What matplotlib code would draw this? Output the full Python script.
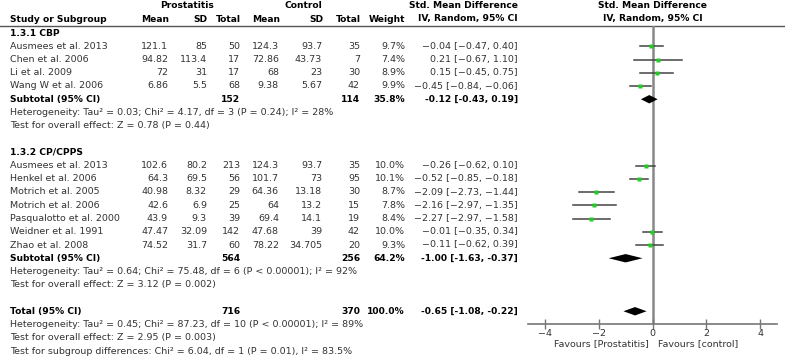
import matplotlib
matplotlib.use("Agg")
import matplotlib.pyplot as plt

# subgroup 1.3.1 CBP
cbp_names = ["Ausmees et al. 2013", "Chen et al. 2006", "Li et al. 2009", "Wang W et al. 2006"]
cbp_mean1 = [121.1, 94.82, 72, 6.86]
cbp_sd1 = [85, 113.4, 31, 5.5]
cbp_n1 = [50, 17, 17, 68]
cbp_mean2 = [124.3, 72.86, 68, 9.38]
cbp_sd2 = [93.7, 43.73, 23, 5.67]
cbp_n2 = [35, 7, 30, 42]
cbp_weight = [9.7, 7.4, 8.9, 9.9]
cbp_smd = [-0.04, 0.21, 0.15, -0.45]
cbp_lo = [-0.47, -0.67, -0.45, -0.84]
cbp_hi = [0.40, 1.10, 0.75, -0.06]

# subgroup 1.3.2 CP/CPPS
cp_names = ["Ausmees et al. 2013", "Henkel et al. 2006", "Motrich et al. 2005", "Motrich et al. 2006",
            "Pasqualotto et al. 2000", "Weidner et al. 1991", "Zhao et al. 2008"]
cp_mean1 = [102.6, 64.3, 40.98, 42.6, 43.9, 47.47, 74.52]
cp_sd1 = [80.2, 69.5, 8.32, 6.9, 9.3, 32.09, 31.7]
cp_n1 = [213, 56, 29, 25, 39, 142, 60]
cp_mean2 = [124.3, 101.7, 64.36, 64, 69.4, 47.68, 78.22]
cp_sd2 = [93.7, 73, 13.18, 13.2, 14.1, 39, 34.705]
cp_n2 = [35, 95, 30, 15, 19, 42, 20]
cp_weight = [10.0, 10.1, 8.7, 7.8, 8.4, 10.0, 9.3]
cp_smd = [-0.26, -0.52, -2.09, -2.16, -2.27, -0.01, -0.11]
cp_lo = [-0.62, -0.85, -2.73, -2.97, -2.97, -0.35, -0.62]
cp_hi = [0.10, -0.18, -1.44, -1.35, -1.58, 0.34, 0.39]

# pooled results: (total1, total2, weight, smd, lo, hi)
sub_cbp = (152, 114, 35.8, -0.12, -0.43, 0.19)
sub_cp = (564, 256, 64.2, -1.00, -1.63, -0.37)
overall = (716, 370, 100.0, -0.65, -1.08, -0.22)

het_cbp = ["Heterogeneity: Tau² = 0.03; Chi² = 4.17, df = 3 (P = 0.24); I² = 28%",
           "Test for overall effect: Z = 0.78 (P = 0.44)"]
het_cp = ["Heterogeneity: Tau² = 0.64; Chi² = 75.48, df = 6 (P < 0.00001); I² = 92%",
          "Test for overall effect: Z = 3.12 (P = 0.002)"]
het_all = ["Heterogeneity: Tau² = 0.45; Chi² = 87.23, df = 10 (P < 0.00001); I² = 89%",
           "Test for overall effect: Z = 2.95 (P = 0.003)",
           "Test for subgroup differences: Chi² = 6.04, df = 1 (P = 0.01), I² = 83.5%"]

xticks = [-4, -2, 0, 2, 4]

FS = 6.8
FSB = 6.6
TXT = "#333333"
W, H = 785, 359


def rowy(i):
    return 33 + 13.25 * i


def fmt_num(v):
    return "{:g}".format(v)


def fmt_ci(e, lo, hi, minus="\u2212"):
    s = "{:.2f} [{:.2f}, {:.2f}]".format(e, lo, hi)
    return s.replace("-", minus)


fig = plt.figure(figsize=(W / 100, H / 100), dpi=100)
ax = fig.add_axes([0, 0, 1, 1])
ax.set_xlim(0, W)
ax.set_ylim(H, 0)
ax.axis("off")

# column right edges
cols = [168, 207, 240, 279, 322, 360]
x_weight = 405
x_smd = 518
x_name = 10

# headers
ax.text(187, 6, "Prostatitis", ha="center", va="center", fontsize=FSB, fontweight="bold")
ax.text(303, 6, "Control", ha="center", va="center", fontsize=FSB, fontweight="bold")
ax.text(x_smd, 6, "Std. Mean Difference", ha="right", va="center", fontsize=FSB, fontweight="bold")
ax.text(x_name, 19, "Study or Subgroup", ha="left", va="center", fontsize=FSB, fontweight="bold")
for x, lab in zip(cols, ["Mean", "SD", "Total", "Mean", "SD", "Total"]):
    ax.text(x + 1, 19, lab, ha="right", va="center", fontsize=FSB, fontweight="bold")
ax.text(x_weight, 19, "Weight", ha="right", va="center", fontsize=FSB, fontweight="bold")
ax.text(x_smd, 19, "IV, Random, 95% CI", ha="right", va="center", fontsize=FSB, fontweight="bold")
ax.plot([0, W], [26, 26], color="#555555", lw=1)


def study_rows(start, names, m1, s1, n1, m2, s2, n2, wt, smd, lo, hi):
    for k in range(len(names)):
        y = rowy(start + k)
        ax.text(x_name, y, names[k], ha="left", va="center", fontsize=FS, color=TXT)
        vals = [fmt_num(m1[k]), fmt_num(s1[k]), str(n1[k]), fmt_num(m2[k]), fmt_num(s2[k]), str(n2[k])]
        for x, v in zip(cols, vals):
            ax.text(x, y, v, ha="right", va="center", fontsize=FS, color=TXT)
        ax.text(x_weight, y, "{:.1f}%".format(wt[k]), ha="right", va="center", fontsize=FS, color=TXT)
        ax.text(x_smd, y, fmt_ci(smd[k], lo[k], hi[k]), ha="right", va="center", fontsize=FS, color=TXT)


def pooled_row(i, label, res):
    y = rowy(i)
    ax.text(x_name, y, label, ha="left", va="center", fontsize=FSB, fontweight="bold")
    ax.text(cols[2], y, str(res[0]), ha="right", va="center", fontsize=FSB, fontweight="bold")
    ax.text(cols[5], y, str(res[1]), ha="right", va="center", fontsize=FSB, fontweight="bold")
    ax.text(x_weight, y, "{:.1f}%".format(res[2]), ha="right", va="center", fontsize=FSB, fontweight="bold")
    ax.text(x_smd, y, fmt_ci(res[3], res[4], res[5], "-"), ha="right", va="center",
            fontsize=FSB, fontweight="bold")


ax.text(x_name, rowy(0), "1.3.1 CBP", ha="left", va="center", fontsize=FSB, fontweight="bold")
study_rows(1, cbp_names, cbp_mean1, cbp_sd1, cbp_n1, cbp_mean2, cbp_sd2, cbp_n2,
           cbp_weight, cbp_smd, cbp_lo, cbp_hi)
pooled_row(5, "Subtotal (95% CI)", sub_cbp)
for k, line in enumerate(het_cbp):
    ax.text(x_name, rowy(6 + k), line, ha="left", va="center", fontsize=FS, color=TXT)

ax.text(x_name, rowy(9), "1.3.2 CP/CPPS", ha="left", va="center", fontsize=FSB, fontweight="bold")
study_rows(10, cp_names, cp_mean1, cp_sd1, cp_n1, cp_mean2, cp_sd2, cp_n2,
           cp_weight, cp_smd, cp_lo, cp_hi)
pooled_row(17, "Subtotal (95% CI)", sub_cp)
for k, line in enumerate(het_cp):
    ax.text(x_name, rowy(18 + k), line, ha="left", va="center", fontsize=FS, color=TXT)

pooled_row(21, "Total (95% CI)", overall)
for k, line in enumerate(het_all):
    ax.text(x_name, rowy(22 + k), line, ha="left", va="center", fontsize=FS, color=TXT)

# forest panel
fx0, fx1, fy_top, fy_axis = 528, 777, 26, 324
fa = fig.add_axes([fx0 / W, (H - fy_axis) / H, (fx1 - fx0) / W, (fy_axis - fy_top) / H])
fa.set_xlim(-4.63, 4.63)
fa.set_ylim(fy_axis, fy_top)
fa.patch.set_alpha(0)
for s in ["left", "right", "top"]:
    fa.spines[s].set_visible(False)
fa.spines["bottom"].set_color("#777777")
fa.spines["bottom"].set_linewidth(1.2)
fa.set_yticks([])
fa.set_xticks(xticks)
fa.set_xticklabels([str(t).replace("-", "\u2212") for t in xticks])
fa.tick_params(axis="x", direction="inout", length=7, width=1, color="#777777",
               labelsize=FS, labelcolor="#333333", pad=0)
fa.axvline(0, color="#888888", lw=1.8, zorder=1)


def forest_rows(start, smd, lo, hi, wt):
    for k in range(len(smd)):
        y = rowy(start + k)
        fa.plot([lo[k], hi[k]], [y, y], color="#444444", lw=1.1, zorder=2)
        fa.plot(smd[k], y, marker="s", ms=wt[k] * 0.3, color="#22cc22", mec="none", zorder=3)


def diamond(i, res):
    y = rowy(i)
    e, lo, hi = res[3], res[4], res[5]
    h = 4.2
    fa.fill([lo, e, hi, e], [y, y - h, y, y + h], color="black", zorder=3, lw=0)


forest_rows(1, cbp_smd, cbp_lo, cbp_hi, cbp_weight)
diamond(5, sub_cbp)
forest_rows(10, cp_smd, cp_lo, cp_hi, cp_weight)
diamond(17, sub_cp)
diamond(21, overall)

ax.text(652.7, 6, "Std. Mean Difference", ha="center", va="center", fontsize=FSB, fontweight="bold")
ax.text(652.7, 19, "IV, Random, 95% CI", ha="center", va="center", fontsize=FSB, fontweight="bold")
fa.text(-0.12, 344, "Favours [Prostatitis]", ha="right", va="center", fontsize=FS, color=TXT, clip_on=False)
fa.text(0.2, 344, "Favours [control]", ha="left", va="center", fontsize=FS, color=TXT, clip_on=False)

fig.savefig("out.png", dpi=100)
